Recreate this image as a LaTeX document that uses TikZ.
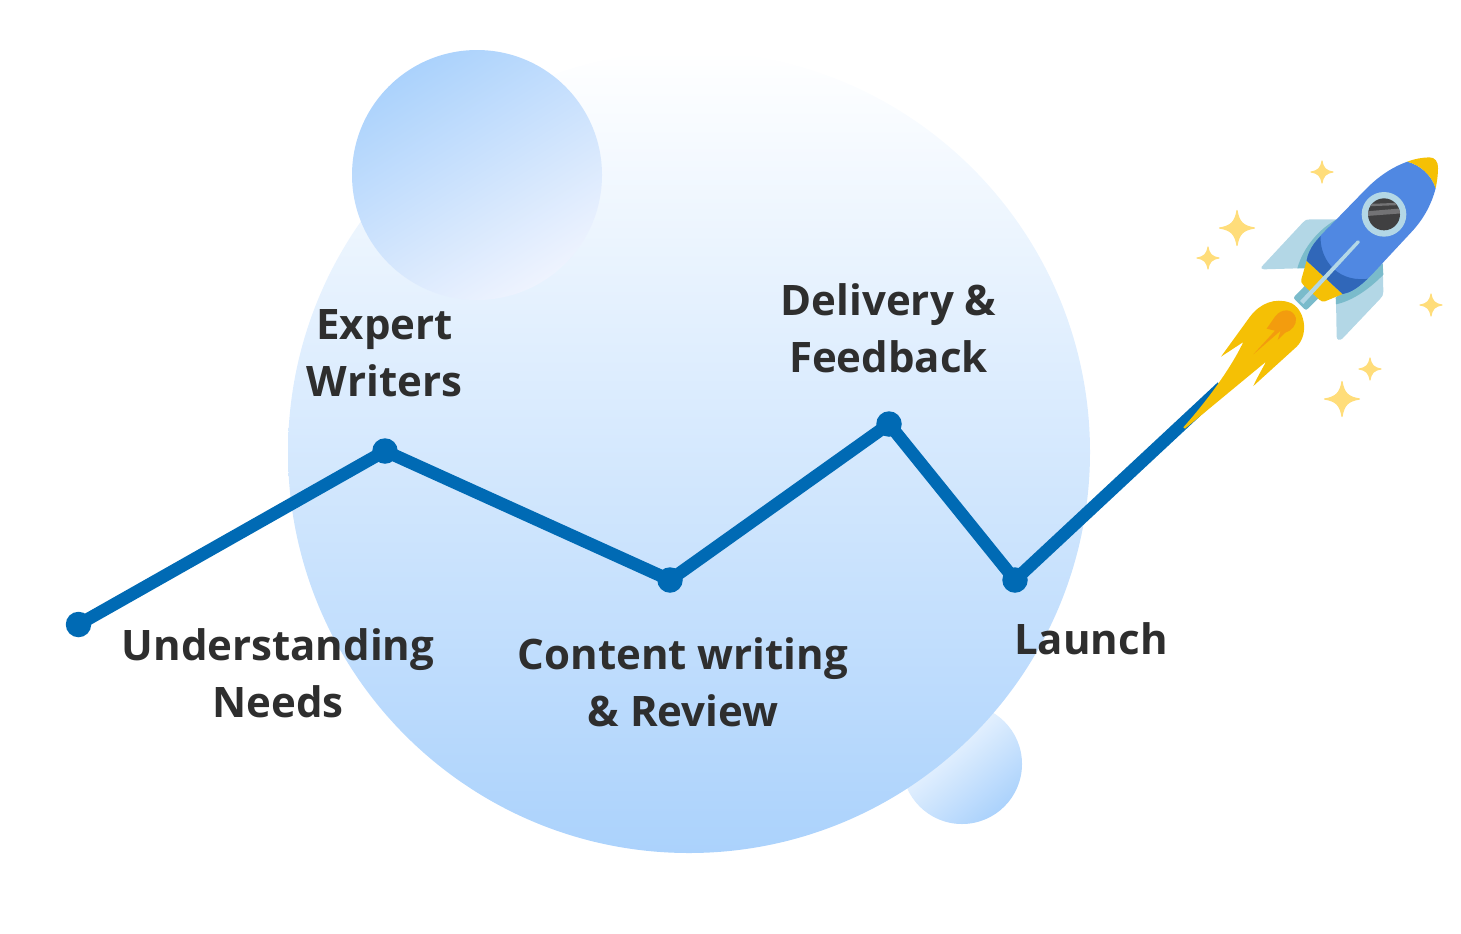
\documentclass[tikz,border=0pt]{standalone}
\usepackage{fontspec}
\setmainfont{Open Sans}
\usepackage{tikz}
\usetikzlibrary{calc}
\definecolor{blobblue}{HTML}{ABD2FC}
\definecolor{blobfade}{HTML}{EEF3FE}
\definecolor{trackblue}{HTML}{006AB4}
\definecolor{labelgrey}{HTML}{2E2E2E}
\definecolor{rocketblue}{HTML}{5088E2}
\definecolor{rocketdark}{HTML}{3067B9}
\definecolor{rocketyellow}{HTML}{F5C005}
\definecolor{flameorange}{HTML}{F39C0E}
\definecolor{finlight}{HTML}{B3D7E6}
\definecolor{findark}{HTML}{7ABBCB}
\definecolor{glassdark}{HTML}{404041}
\definecolor{glasslight}{HTML}{737375}
\definecolor{sparkyellow}{HTML}{FFDD7A}
\newcommand{\rocketbody}{(742,65) .. controls (695,82) and (655,110) .. (620,145) -- (510,258) .. controls (475,292) and (445,325) .. (440,362) -- (548,462) .. controls (590,455) and (630,410) .. (665,372) -- (760,270) .. controls (795,230) and (815,190) .. (827,145) .. controls (815,105) and (780,75) .. (742,65) -- cycle}
\tikzset{
  blob/.style={circle,inner sep=0pt,minimum size=#1},
  trackdot/.style={circle,fill=trackblue,inner sep=0pt,minimum size=25.5*0.5pt},
  track/.style={draw=trackblue,line width=6.3pt,line join=miter},
  steplabel/.style={align=center,text=labelgrey,font=\fontsize{21}{28.5}\selectfont\bfseries},
  rocketpart/.style={shift={(1160,140)},scale=1/3},
  sparkle/.pic={\filldraw[sparkyellow,line width=0.6pt,line join=round] (0,-1) .. controls (0.1,-0.35) and (0.35,-0.1) .. (1,0)
    .. controls (0.35,0.1) and (0.1,0.35) .. (0,1)
    .. controls (-0.1,0.35) and (-0.35,0.1) .. (-1,0)
    .. controls (-0.35,-0.1) and (-0.1,-0.35) .. (0,-1) -- cycle;}
}
\begin{document}
\begin{tikzpicture}[x=0.5pt,y=-0.5pt]
\useasboundingbox (0,0) rectangle (1461,933);

%BLOBS
\node [blob=60pt,top color=white,bottom color=blobblue,shading angle=40] (blobsmall) at (962,764) {};
\node [blob=401pt,top color=white,middle color=blobblue!38!white,bottom color=blobblue] (blobbig) at (689,452) {};
\node [blob=125pt,top color=blobblue,bottom color=blobfade,shading angle=32] (blobtop) at (477,175) {};

%TRACK
\node [trackdot] (understanding) at (78.5,624.5) {};
\node [trackdot] (writers) at (385,451) {};
\node [trackdot] (content) at (670,580) {};
\node [trackdot] (delivery) at (889,424) {};
\node [trackdot] (launch) at (1015,580) {};
\coordinate (liftoff) at (1222,387);
\draw [track] (understanding.center) -- (writers.center) -- (content.center) -- (delivery.center) -- (launch.center) -- (liftoff);

%LABELS
\node [steplabel] (understandinglabel) at (278,673) {Understanding\\Needs};
\node [steplabel] (writerslabel) at (384.5,353) {Expert\\Writers};
\node [steplabel] (contentlabel) at (683,682) {Content writing\\\& Review};
\node [steplabel] (deliverylabel) at (888.5,328) {Delivery \&\\Feedback};
\node [steplabel] (launchlabel) at (1091,639) {Launch};

%SPARKLES
\pic [scale=17.5] at (1237,228) {sparkle};
\pic [scale=11] at (1208,258) {sparkle};
\pic [scale=11] at (1322,172) {sparkle};
\pic [scale=11] at (1431,305) {sparkle};
\pic [scale=11] at (1370,369) {sparkle};
\pic [scale=17.5] at (1342,399) {sparkle};

%ROCKET
\begin{scope}[rocketpart]
% fins
\fill [finlight] (305,380) -- (428,248) .. controls (434,240) and (440,238) .. (450,238) -- (530,238) -- (440,365) -- (415,385) -- (312,388) .. controls (305,388) and (303,384) .. (305,380) -- cycle;
\fill [finlight] (528,480) -- (668,370) -- (670,455) .. controls (670,465) and (667,470) .. (660,477) -- (548,595) .. controls (540,603) and (530,600) .. (530,590) -- cycle;
\fill [findark] (530,238) .. controls (480,265) and (430,320) .. (412,385) -- (450,385) -- (520,270) -- cycle;
\fill [findark] (668,370) -- (527,472) -- (528,493) .. controls (575,483) and (625,450) .. (670,404) -- cycle;
% nozzle
\fill [findark] (403,470) -- (436,436) -- (476,474) -- (445,505) .. controls (440,511) and (436,510) .. (432,506) -- (406,480) .. controls (402,476) and (401,473) .. (403,470) -- cycle;
% base
\fill [rocketyellow] (440,362) -- (548,462) -- (495,484) .. controls (488,486) and (484,484) .. (478,479) -- (430,435) .. controls (424,429) and (422,424) .. (424,418) -- cycle;
% body
\fill [rocketblue] \rocketbody;
\begin{scope}
\clip \rocketbody;
\fill [rocketdark] (482,288) .. controls (478,345) and (520,425) .. (618,417) -- (700,400) -- (560,500) -- (400,380) -- cycle;
\end{scope}
\fill [rocketyellow] (742,65) .. controls (765,56) and (785,53) .. (808,52) .. controls (825,52) and (835,65) .. (834,85) .. controls (834,105) and (831,125) .. (827,145) .. controls (815,105) and (780,75) .. (742,65) -- cycle;
% window
\fill [finlight] (672,223) circle [radius=67];
\begin{scope}
\clip (672,223) circle [radius=48];
\fill [glassdark] (620,170) rectangle (725,275);
\fill [glasslight] (620,214) -- (725,205) -- (725,220) -- (620,228) -- cycle;
\fill [glasslight] (620,192) -- (725,188) -- (725,195) -- (620,199) -- cycle;
\end{scope}
% stripe
\fill [finlight] (591,302) .. controls (595,298) and (603,303) .. (599,308) -- (430,492) -- (420,483) -- cycle;
% flame
\fill [rocketyellow] (70,862) .. controls (125,800) and (205,700) .. (250,606) -- (183,650) -- (270,530) .. controls (300,490) and (345,472) .. (390,488) .. controls (432,503) and (450,580) .. (410,620) -- (280,738) .. controls (290,715) and (305,690) .. (318,665) -- (75,866) -- cycle;
\fill [flameorange] (280,643) -- (345,572) -- (320,566) -- (345,530) .. controls (365,503) and (400,505) .. (408,535) .. controls (410,555) and (395,572) .. (376,578) -- (353,600) -- (362,572) -- cycle;
\end{scope}

\end{tikzpicture}
\end{document}
